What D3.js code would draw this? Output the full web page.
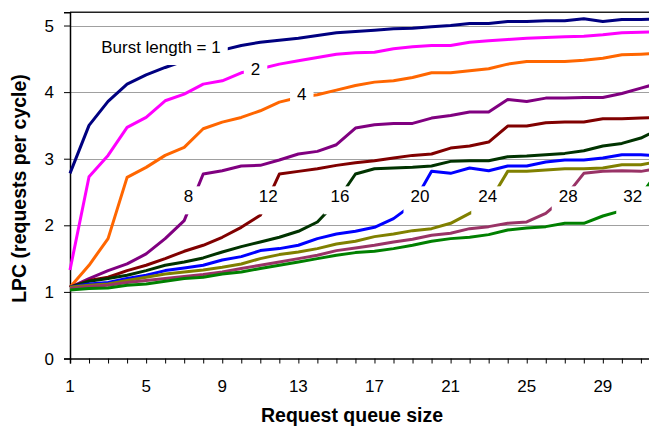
<!DOCTYPE html>
<html lang="en">
<head>
    <meta charset="UTF-8">
    <title>LPC vs request queue size</title>
    <script src="https://cdn.jsdelivr.net/npm/d3@7"></script>
    <style>
        body { margin: 0; background: #fff; }
        text { font-family: "Liberation Sans", Arial, sans-serif; fill: #000; }
        .tick-label { font-size: 17px; }
        .axis-title { font-size: 19.5px; font-weight: bold; }
        .grid { stroke: #a0a0a0; stroke-width: 1px; }
        .series { fill: none; stroke-width: 3px; stroke-linejoin: round; }
        .lbl { font-size: 17px; }
    </style>
</head>
<body>
    <svg width="649" height="426"></svg>

    <script>
        // request queue size, 1..32
        const queueSize = d3.range(1, 33);
        const xTickLabels = [1, 5, 9, 13, 17, 21, 25, 29];
        const yTicks = [0, 1, 2, 3, 4, 5];

        const burstLengths = [1, 2, 4, 8, 12, 16, 20, 24, 28, 32];
        const colors = ["#000080", "#ff00ff", "#ff6600", "#800080", "#800000",
                        "#003300", "#0000ff", "#808000", "#993366", "#008000"];

        // LPC per queue size, one array per burst length
        const lpc1  = [2.78, 3.50, 3.86, 4.12, 4.26, 4.37, 4.47, 4.56, 4.63, 4.70, 4.75, 4.78, 4.81, 4.85, 4.89, 4.91,
                       4.93, 4.95, 4.96, 4.98, 5.00, 5.03, 5.03, 5.06, 5.06, 5.07, 5.07, 5.10, 5.06, 5.09, 5.09, 5.10];
        const lpc2  = [1.33, 2.73, 3.05, 3.47, 3.62, 3.87, 3.97, 4.12, 4.17, 4.29, 4.35, 4.42, 4.47, 4.52, 4.57, 4.59,
                       4.60, 4.65, 4.68, 4.70, 4.70, 4.75, 4.77, 4.79, 4.81, 4.82, 4.83, 4.84, 4.86, 4.89, 4.90, 4.91];
        const lpc4  = [1.07, 1.40, 1.80, 2.72, 2.87, 3.05, 3.17, 3.45, 3.55, 3.62, 3.72, 3.85, 3.92, 3.96, 4.03, 4.10,
                       4.15, 4.17, 4.22, 4.29, 4.29, 4.32, 4.35, 4.42, 4.46, 4.46, 4.46, 4.48, 4.51, 4.56, 4.57, 4.58];
        const lpc8  = [1.07, 1.20, 1.32, 1.42, 1.57, 1.80, 2.07, 2.77, 2.82, 2.89, 2.90, 2.98, 3.07, 3.11, 3.21, 3.46,
                       3.51, 3.53, 3.53, 3.61, 3.65, 3.70, 3.70, 3.89, 3.86, 3.91, 3.91, 3.92, 3.92, 3.98, 4.06, 4.14];
        const lpc12 = [1.07, 1.17, 1.22, 1.32, 1.40, 1.50, 1.61, 1.70, 1.82, 1.97, 2.15, 2.77, 2.81, 2.85, 2.90, 2.94,
                       2.97, 3.01, 3.05, 3.07, 3.16, 3.19, 3.25, 3.49, 3.49, 3.54, 3.55, 3.55, 3.60, 3.60, 3.61, 3.62];
        const lpc16 = [1.07, 1.16, 1.20, 1.25, 1.32, 1.40, 1.45, 1.51, 1.60, 1.68, 1.75, 1.82, 1.91, 2.05, 2.35, 2.77,
                       2.85, 2.86, 2.87, 2.89, 2.96, 2.97, 2.97, 3.03, 3.04, 3.06, 3.08, 3.12, 3.19, 3.23, 3.31, 3.45];
        const lpc20 = [1.07, 1.12, 1.14, 1.20, 1.25, 1.32, 1.36, 1.40, 1.48, 1.53, 1.62, 1.65, 1.70, 1.80, 1.87, 1.91,
                       1.97, 2.10, 2.31, 2.81, 2.78, 2.86, 2.82, 2.89, 2.89, 2.95, 2.98, 2.98, 3.01, 3.06, 3.06, 3.04];
        const lpc24 = [1.07, 1.10, 1.12, 1.17, 1.22, 1.27, 1.30, 1.33, 1.37, 1.42, 1.50, 1.56, 1.60, 1.65, 1.72, 1.76,
                       1.83, 1.87, 1.92, 1.95, 2.03, 2.18, 2.33, 2.81, 2.81, 2.83, 2.85, 2.85, 2.86, 2.91, 2.91, 2.96];
        const lpc28 = [1.05, 1.08, 1.10, 1.14, 1.17, 1.20, 1.23, 1.26, 1.30, 1.35, 1.40, 1.45, 1.50, 1.55, 1.62, 1.66,
                       1.70, 1.75, 1.79, 1.85, 1.88, 1.95, 1.98, 2.03, 2.05, 2.18, 2.42, 2.78, 2.81, 2.82, 2.81, 2.86];
        const lpc32 = [1.03, 1.05, 1.06, 1.10, 1.12, 1.16, 1.20, 1.22, 1.27, 1.30, 1.35, 1.40, 1.45, 1.50, 1.55, 1.59,
                       1.61, 1.65, 1.70, 1.76, 1.80, 1.82, 1.86, 1.93, 1.96, 1.98, 2.03, 2.03, 2.14, 2.22, 2.45, 2.85];
        const allSeries = [lpc1, lpc2, lpc4, lpc8, lpc12, lpc16, lpc20, lpc24, lpc28, lpc32];

        // label texts and where they sit (queue size, LPC at baseline)
        const labelText = ["Burst length = 1", "2", "4", "8", "12", "16", "20", "24", "28", "32"];
        const labelX = [5.78, 10.75, 13.18, 7.22, 11.42, 15.19, 19.39, 22.95, 27.18, 30.57];
        const labelY = [4.587, 4.26, 3.88, 2.345, 2.345, 2.345, 2.345, 2.345, 2.345, 2.345];

        const svg = d3.select("svg");

        const x = d3.scaleLinear().domain([1, 32]).range([70, 70 + 31 * 19.03]);
        const y = d3.scaleLinear().domain([0, 5.2]).range([358.5, 12.2]);

        // horizontal gridlines
        svg.append("g").selectAll("line")
            .data(yTicks.slice(1))
            .enter().append("line")
            .attr("class", "grid")
            .attr("x1", x(1)).attr("x2", 649)
            .attr("y1", d => Math.round(y(d)) + 0.5)
            .attr("y2", d => Math.round(y(d)) + 0.5);

        // top border of plot area
        svg.append("line")
            .attr("x1", x(1)).attr("x2", 649)
            .attr("y1", y(5.2)).attr("y2", y(5.2))
            .attr("stroke", "#222").attr("stroke-width", 1.5);

        // x axis
        const xAxis = svg.append("g")
            .attr("transform", `translate(0,${y(0)})`)
            .call(d3.axisBottom(x).tickValues(queueSize).tickSize(5).tickFormat(""));
        xAxis.select(".domain").attr("stroke", "#000").attr("stroke-width", 1.5);
        xAxis.selectAll(".tick line").attr("stroke", "#000");

        svg.append("g").selectAll("text")
            .data(xTickLabels)
            .enter().append("text")
            .attr("class", "tick-label")
            .attr("x", d => x(d))
            .attr("y", 392)
            .attr("text-anchor", "middle")
            .text(d => d);

        // y axis
        const yAxis = svg.append("g")
            .attr("transform", `translate(${x(1)},0)`)
            .call(d3.axisLeft(y).tickValues(yTicks).tickSize(6).tickFormat(""));
        yAxis.select(".domain").attr("stroke", "#000").attr("stroke-width", 1.5);
        yAxis.selectAll(".tick line").attr("stroke", "#000");

        svg.append("g").selectAll("text")
            .data(yTicks)
            .enter().append("text")
            .attr("class", "tick-label")
            .attr("x", 54)
            .attr("y", d => y(d))
            .attr("dy", "0.36em")
            .attr("text-anchor", "end")
            .text(d => d);

        // series
        const line = d3.line()
            .x((d, i) => x(queueSize[i]))
            .y(d => y(d));

        svg.append("g").selectAll("path")
            .data(allSeries)
            .enter().append("path")
            .attr("class", "series")
            .attr("stroke", (d, i) => colors[i])
            .attr("d", line);

        // in-line labels on white boxes
        const lblG = svg.append("g");
        labelText.forEach((t, i) => {
            const g = lblG.append("g");
            const rect = g.append("rect").attr("fill", "#fff");
            const txt = g.append("text")
                .attr("class", "lbl")
                .attr("x", x(labelX[i]))
                .attr("y", y(labelY[i]))
                .attr("text-anchor", "middle")
                .text(t);
            const b = txt.node().getBBox();
            rect.attr("x", b.x - 7).attr("y", b.y - 1)
                .attr("width", b.width + 14).attr("height", b.height + 9);
        });

        // axis titles
        svg.append("text")
            .attr("class", "axis-title")
            .attr("x", 352).attr("y", 422)
            .attr("text-anchor", "middle")
            .text("Request queue size");

        svg.append("text")
            .attr("class", "axis-title")
            .attr("transform", "translate(26,188.5) rotate(-90)")
            .attr("text-anchor", "middle")
            .text("LPC (requests per cycle)");
    </script>
</body>
</html>
